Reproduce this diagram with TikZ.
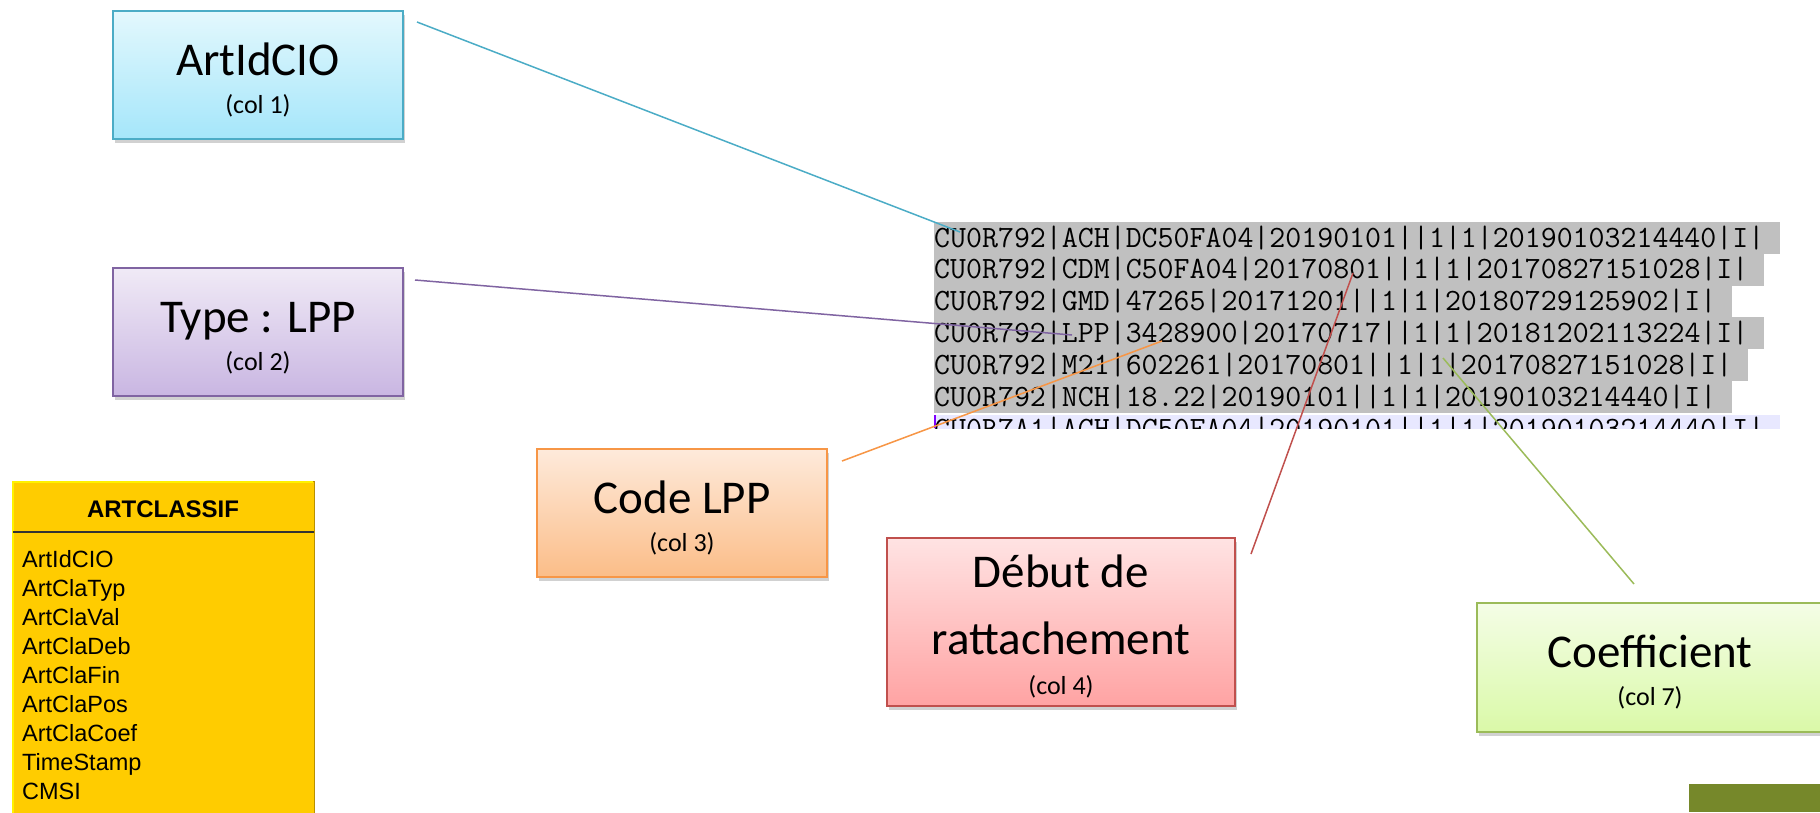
\documentclass[tikz,border=0pt]{standalone}
\usepackage{fontspec}
\setmainfont{Carlito}
\newfontfamily\arialfont{Liberation Sans}
\usetikzlibrary{positioning}
\usetikzlibrary{shadows}

\definecolor{idLine}{HTML}{4BACC6}
\definecolor{idTop}{HTML}{E3F8FD}
\definecolor{idBot}{HTML}{A5E6FA}
\definecolor{typLine}{HTML}{8064A2}
\definecolor{typTop}{HTML}{F0EAF6}
\definecolor{typBot}{HTML}{C9B6E2}
\definecolor{codeLine}{HTML}{F79646}
\definecolor{codeTop}{HTML}{FEEADB}
\definecolor{codeBot}{HTML}{FBBD88}
\definecolor{debLine}{HTML}{C0504D}
\definecolor{debTop}{HTML}{FFE3E3}
\definecolor{debBot}{HTML}{FFA3A3}
\definecolor{coefLine}{HTML}{9BBB59}
\definecolor{coefTop}{HTML}{F4FDE6}
\definecolor{coefBot}{HTML}{DAF9A8}
\definecolor{selGray}{HTML}{C0C0C0}
\definecolor{cursorRow}{HTML}{E8E8FF}
\definecolor{cursorMark}{HTML}{8000FF}
\definecolor{tableFill}{HTML}{FFCC00}
\definecolor{tableEdge}{HTML}{B89000}
\definecolor{slideBar}{HTML}{76882A}

\newcommand{\boxtitle}[1]{{\fontsize{47}{38}\selectfont\rule{0pt}{44pt}#1}}
\newcommand{\boxcol}[1]{{#1\rule[-6pt]{0pt}{6pt}}}

\tikzset{
	block/.style={
		rectangle,
		align=center,
		minimum width=290pt,
		minimum height=128pt,
		inner sep=0pt,
		line width=2pt,
		font=\fontsize{26}{38}\selectfont,
		drop shadow={shadow xshift=2pt, shadow yshift=-4pt, opacity=.3, fill=black!60}
	},
	idblock/.style={block, draw=idLine, top color=idTop, bottom color=idBot},
	typblock/.style={block, draw=typLine, top color=typTop, bottom color=typBot},
	codeblock/.style={block, draw=codeLine, top color=codeTop, bottom color=codeBot},
	debblock/.style={block, draw=debLine, top color=debTop, bottom color=debBot},
	coefblock/.style={block, draw=coefLine, top color=coefTop, bottom color=coefBot},
	link/.style={line width=1.5pt, draw=#1},
	datarow/.style={
		anchor=base west,
		fill=selGray,
		inner sep=0pt,
		text height=25pt,
		text depth=7pt,
		text=black,
		font=\ttfamily\fontsize{31}{32}\selectfont
	},
	fieldtext/.style={anchor=base west, inner sep=0pt, font=\arialfont\fontsize{23.5}{28}\selectfont}
}

\begin{document}
\begin{tikzpicture}[x=1pt, y=-1pt]
	\useasboundingbox (0,0) rectangle (1820,812);

	% table
	\node[rectangle, fill=tableFill, draw=tableEdge, line width=1pt, minimum width=302pt, minimum height=334pt, anchor=north west, inner sep=0pt] (artclassif) at (12,481) {};
	\draw[yellow, line width=2pt] (13,815) -- (13,482) -- (313,482);
	\node[anchor=base, inner sep=0pt, font=\arialfont\bfseries\fontsize{24}{28}\selectfont] (artHead) at (163,517) {ARTCLASSIF};
	\draw[black!80, line width=2pt] (13,532) -- (314,532);
	\foreach \field [count=\i] in {ArtIdCIO, ArtClaTyp, ArtClaVal, ArtClaDeb, ArtClaFin, ArtClaPos, ArtClaCoef, TimeStamp, CMSI}
		\node[fieldtext] (field\i) at (22, {567+29.1*(\i-1)}) {\field};

	% data lines
	\foreach \rowtext [count=\i] in {
		CU0R792|ACH|DC50FA04|20190101||1|1|20190103214440|I|,
		CU0R792|CDM|C50FA04|20170801||1|1|20170827151028|I|,
		CU0R792|GMD|47265|20171201||1|1|20180729125902|I|,
		CU0R792|LPP|3428900|20170717||1|1|20181202113224|I|,
		CU0R792|M21|602261|20170801||1|1|20170827151028|I|,
		CU0R792|NCH|18.22|20190101||1|1|20190103214440|I|}
		\node[datarow] (row\i) at (934, {247+31.8*(\i-1)}) {\rowtext\phantom{I}};
	\begin{scope}
		\clip (930,415) rectangle (1800,428);
		\node[datarow, fill=cursorRow] (row7) at (934,438) {CU0R7A1|ACH|DC50FA04|20190101||1|1|20190103214440|I|\phantom{I}};
	\end{scope}
	\draw[cursorMark, line width=2pt] (935,415) -- (935,428);

	% boxes
	\node[idblock] (ArtId) at (258,75) {\boxtitle{ArtIdCIO}\\ \boxcol{(col 1)}};
	\node[typblock] (Typ) at (258,332) {\boxtitle{Type : LPP}\\ \boxcol{(col 2)}};
	\node[codeblock] (Code) at (682,513) {\boxtitle{Code LPP}\\ \boxcol{(col 3)}};
	\node[debblock, minimum width=348pt, minimum height=168pt] (Deb) at (1061,622) {\boxtitle{Début de}\\[21pt] \boxtitle{rattachement}\\[2pt] \boxcol{(col 4)}};
	\node[coefblock, minimum width=346pt, minimum height=129pt] (Coef) at (1650,667.5) {\boxtitle{Coefficient}\\ \boxcol{(col 7)}};

	% connectors
	\coordinate (ArtIdTip) at (960,232);
	\coordinate (TypTip) at (1072,335);
	\coordinate (CodeTip) at (1162,341);
	\coordinate (DebTip) at (1353,273);
	\coordinate (CoefTip) at (1443,358);
	\draw[link=idLine] ([shift={(13,12)}]ArtId.north east) -- (ArtIdTip);
	\draw[link=typLine] ([shift={(11,13)}]Typ.north east) -- (TypTip);
	\draw[link=codeLine] ([shift={(14,13)}]Code.north east) -- (CodeTip);
	\draw[link=debLine] ([shift={(15,17)}]Deb.north east) -- (DebTip);
	\draw[link=coefLine] ([shift={(-16,-18)}]Coef.north) -- (CoefTip);

	\fill[slideBar] (1689,784) rectangle (1820,812);
\end{tikzpicture}
\end{document}
